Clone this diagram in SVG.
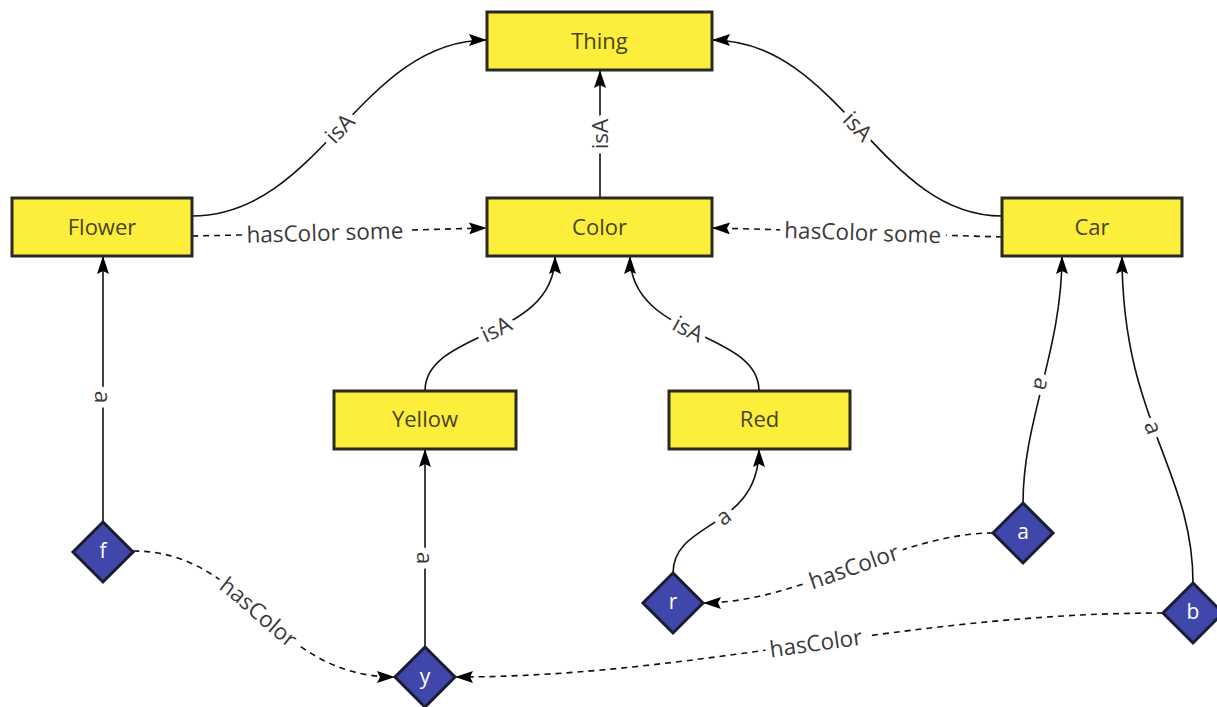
<svg xmlns="http://www.w3.org/2000/svg" xmlns:xlink="http://www.w3.org/1999/xlink" width="1217" height="707" viewBox="0 0 1217 707">
<style>
.box{fill:#fcee3a;stroke:#2b2a1e;stroke-width:3}
.btxt{font-family:"Open Sans","Noto Sans",sans-serif;font-size:22px;fill:#48441c;text-anchor:middle;dominant-baseline:central}
.dia{fill:#3f48aa;stroke:#1c1c30;stroke-width:3}
.dtxt{font-family:"Open Sans","Noto Sans",sans-serif;font-size:21px;fill:#ffffff;text-anchor:middle;dominant-baseline:central}
.edge{fill:none;stroke:#111;stroke-width:1.6}
.dash{stroke-dasharray:6 5}
.lbls{font-family:"Open Sans","Noto Sans",sans-serif;font-size:22.5px}
.bg{fill:#fff;stroke:#fff;stroke-width:12;stroke-linejoin:round}
.fg{fill:#3a3a3a;stroke:none}
</style>
<defs>
<marker id="arr" markerUnits="userSpaceOnUse" markerWidth="20" markerHeight="12" refX="18" refY="6" orient="auto">
<path d="M0,0 L18,6 L0,12 L3,6 z" fill="#000"/>
</marker>
<path id="l1" d="M192,216 C320,216 360,40 487,40"/>
<path id="l2" d="M600,198 L600,70"/>
<path id="l3" d="M712,40 C840,40 880,216 1002,216"/>
<path id="l4" d="M192,236 C300,234 400,230 487,228"/>
<path id="l5" d="M712,228 C800,230 900,234 1002,237"/>
<path id="l6" d="M425,391 C425,330 555,340 555,256"/>
<path id="l7" d="M630,256 C630,340 759,330 759,391"/>
<path id="l8" d="M103,256 L103,522"/>
<path id="l9" d="M425,449 L425,647"/>
<path id="l10" d="M673,573 C673,520 759,530 759,449"/>
<path id="l11" d="M1062,256 C1062,350 1023,420 1023,503"/>
<path id="l12" d="M1122,256 C1122,420 1193,470 1193,583"/>
<path id="l13" d="M133,551 C250,551 270,677 395,677"/>
<path id="l14" d="M703,603 C800,603 900,533 993,533"/>
<path id="l15" d="M455,677 C700,677 900,613 1163,613"/>
<g id="labels">
<text dy="8"><textPath href="#l1" startOffset="50%" text-anchor="middle">isA</textPath></text>
<text dy="8"><textPath href="#l2" startOffset="50%" text-anchor="middle">isA</textPath></text>
<text dy="8"><textPath href="#l3" startOffset="50%" text-anchor="middle">isA</textPath></text>
<text dy="8"><textPath href="#l4" startOffset="45%" text-anchor="middle">hasColor some</textPath></text>
<text dy="8"><textPath href="#l5" startOffset="52%" text-anchor="middle">hasColor some</textPath></text>
<text dy="8"><textPath href="#l6" startOffset="50%" text-anchor="middle">isA</textPath></text>
<text dy="8"><textPath href="#l7" startOffset="50%" text-anchor="middle">isA</textPath></text>
<text dy="8"><textPath href="#l8" startOffset="53%" text-anchor="middle">a</textPath></text>
<text dy="8"><textPath href="#l9" startOffset="55%" text-anchor="middle">a</textPath></text>
<text dy="8"><textPath href="#l10" startOffset="50%" text-anchor="middle">a</textPath></text>
<text dy="8"><textPath href="#l11" startOffset="52%" text-anchor="middle">a</textPath></text>
<text dy="8"><textPath href="#l12" startOffset="52%" text-anchor="middle">a</textPath></text>
<text dy="8"><textPath href="#l13" startOffset="48%" text-anchor="middle">hasColor</textPath></text>
<text dy="8"><textPath href="#l14" startOffset="52%" text-anchor="middle">hasColor</textPath></text>
<text dy="8"><textPath href="#l15" startOffset="51%" text-anchor="middle">hasColor</textPath></text>
</g>
</defs>
<g id="connectors">
<path class="edge" d="M192,216 C320,216 360,40 487,40" marker-end="url(#arr)"/>
<path class="edge" d="M600,198 L600,70" marker-end="url(#arr)"/>
<path class="edge" d="M1002,216 C880,216 840,40 712,40" marker-end="url(#arr)"/>
<path class="edge dash" d="M192,236 C300,234 400,230 487,228" marker-end="url(#arr)"/>
<path class="edge dash" d="M1002,237 C900,234 800,230 712,228" marker-end="url(#arr)"/>
<path class="edge" d="M425,391 C425,330 555,340 555,256" marker-end="url(#arr)"/>
<path class="edge" d="M759,391 C759,330 630,340 630,256" marker-end="url(#arr)"/>
<path class="edge" d="M103,522 L103,256" marker-end="url(#arr)"/>
<path class="edge" d="M425,647 L425,449" marker-end="url(#arr)"/>
<path class="edge" d="M673,573 C673,520 759,530 759,449" marker-end="url(#arr)"/>
<path class="edge" d="M1023,503 C1023,420 1062,350 1062,256" marker-end="url(#arr)"/>
<path class="edge" d="M1193,583 C1193,470 1122,420 1122,256" marker-end="url(#arr)"/>
<path class="edge dash" d="M133,551 C250,551 270,677 395,677" marker-end="url(#arr)"/>
<path class="edge dash" d="M993,533 C900,533 800,603 703,603" marker-end="url(#arr)"/>
<path class="edge dash" d="M1163,613 C900,613 700,677 455,677" marker-end="url(#arr)"/>
<use href="#labels" class="lbls bg"/>
<use href="#labels" class="lbls fg"/>
</g>
<g id="node-thing"><rect class="box" x="487" y="12" width="225" height="58"/><text class="btxt" x="599.5" y="40">Thing</text></g>
<g id="node-flower"><rect class="box" x="12" y="198" width="180" height="58"/><text class="btxt" x="102" y="226">Flower</text></g>
<g id="node-color"><rect class="box" x="487" y="198" width="225" height="58"/><text class="btxt" x="599.5" y="226">Color</text></g>
<g id="node-car"><rect class="box" x="1002" y="198" width="180" height="58"/><text class="btxt" x="1092" y="226">Car</text></g>
<g id="node-yellow"><rect class="box" x="334" y="391" width="182" height="58"/><text class="btxt" x="425" y="418">Yellow</text></g>
<g id="node-red"><rect class="box" x="669" y="391" width="181" height="58"/><text class="btxt" x="759.5" y="418">Red</text></g>
<g id="node-f"><path class="dia" d="M103,522 L133,552 L103,582 L73,552 z"/><text class="dtxt" x="103" y="550">f</text></g>
<g id="node-y"><path class="dia" d="M425,647 L455,677 L425,707 L395,677 z"/><text class="dtxt" x="425" y="676">y</text></g>
<g id="node-r"><path class="dia" d="M673,573 L703,603 L673,633 L643,603 z"/><text class="dtxt" x="673" y="601">r</text></g>
<g id="node-a"><path class="dia" d="M1023,503 L1053,533 L1023,563 L993,533 z"/><text class="dtxt" x="1023" y="531">a</text></g>
<g id="node-b"><path class="dia" d="M1193,583 L1223,613 L1193,643 L1163,613 z"/><text class="dtxt" x="1193" y="611">b</text></g>
</svg>
